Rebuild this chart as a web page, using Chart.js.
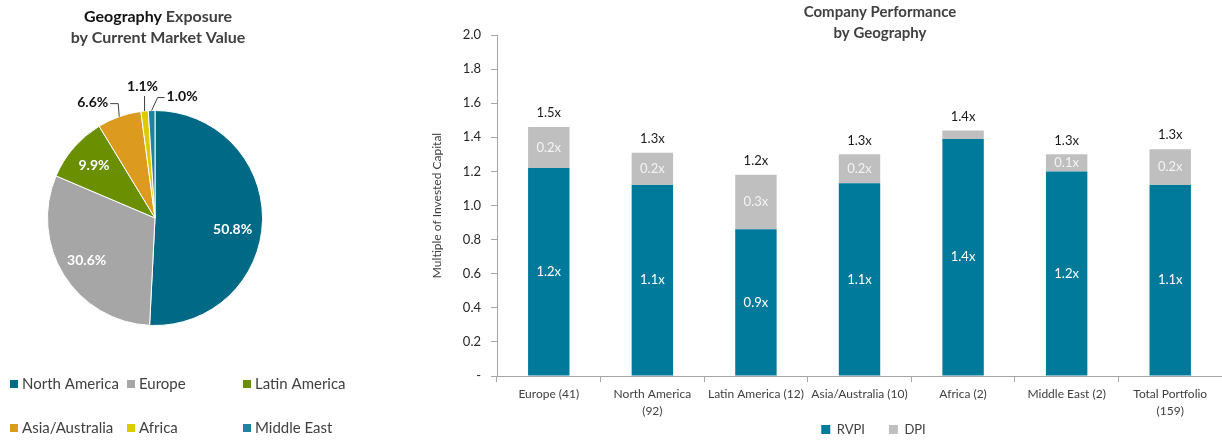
<!DOCTYPE html>
<html>
<head>
<meta charset="utf-8">
<title>Portfolio by Geography</title>
<script src="https://cdn.jsdelivr.net/npm/chart.js@4.4.1/dist/chart.umd.min.js"></script>
<style>
  html, body { margin: 0; padding: 0; background: #fff; overflow: hidden; }
  #page { position: relative; width: 1222px; height: 440px; }
  #pieWrap { position: absolute; left: 0; top: 0; width: 370px; height: 440px; }
  #barWrap { position: absolute; left: 420px; top: 0; width: 802px; height: 440px; }
</style>
</head>
<body>
<div id="page">
  <div id="pieWrap"><canvas id="geoPie"></canvas></div>
  <div id="barWrap"><canvas id="perfBar"></canvas></div>
</div>
<script>
// exposure by current market value, %
const regions = ['North America', 'Europe', 'Latin America', 'Asia/Australia', 'Africa', 'Middle East'];
const exposure = [50.8, 30.6, 9.9, 6.6, 1.1, 1.0];
const regionColors = ['#006A86', '#A6A6A6', '#6A8F00', '#DC9A1E', '#DDCA00', '#2281A2'];

// company performance, multiple of invested capital (company count in brackets)
const perfLabels = [
  ['Europe (41)'],
  ['North America', '(92)'],
  ['Latin America (12)'],
  ['Asia/Australia (10)'],
  ['Africa (2)'],
  ['Middle East (2)'],
  ['Total Portfolio', '(159)']
];
const rvpi = [1.22, 1.12, 0.86, 1.13, 1.39, 1.20, 1.12];
const dpi = [0.24, 0.19, 0.32, 0.17, 0.05, 0.10, 0.21];
const yMax = 2.0;
const yStep = 0.2;

const FONT = 'Lato';
Chart.defaults.font.family = FONT;

// ---------- pie ----------

// small slices get a leader line: elbow, end of line and text anchor, relative to the rim
const callouts = {
  3: { elbow: [-1, -13], end: [-9, -13], text: [-11, -14], align: 'right' },
  4: { elbow: [0, -15], end: [0, -15], text: [-2, -25], align: 'center' },
  5: { elbow: [6, -13], end: [13, -13], text: [15, -14], align: 'left' }
};
const insideNudge = { 0: [-3, 9] };

const pieTitle = {
  id: 'pieTitle',
  afterDraw(chart) {
    const { ctx } = chart;
    const cx = 158;
    ctx.save();
    ctx.font = 'bold 16px ' + FONT;
    ctx.textBaseline = 'middle';
    const a = 'Geography ', b = 'Exposure';
    const wa = ctx.measureText(a).width, wb = ctx.measureText(b).width;
    const x = cx - (wa + wb) / 2;
    ctx.textAlign = 'left';
    ctx.fillStyle = '#111111';
    ctx.fillText(a, x, 17);
    ctx.fillStyle = '#404040';
    ctx.fillText(b, x + wa, 17);
    ctx.textAlign = 'center';
    ctx.fillText('by Current Market Value', cx, 38);
    ctx.restore();
  }
};

const pieLabels = {
  id: 'pieLabels',
  afterDatasetsDraw(chart) {
    const { ctx } = chart;
    const meta = chart.getDatasetMeta(0);
    const values = chart.data.datasets[0].data;
    ctx.save();
    ctx.font = 'bold 14px ' + FONT;
    ctx.textBaseline = 'middle';
    meta.data.forEach((arc, i) => {
      const text = values[i].toFixed(1) + '%';
      const mid = (arc.startAngle + arc.endAngle) / 2;
      const c = callouts[i];
      if (!c) {
        const r = arc.outerRadius * 0.75;
        const n = insideNudge[i] || [0, 0];
        ctx.fillStyle = '#ffffff';
        ctx.textAlign = 'center';
        ctx.fillText(text, arc.x + Math.cos(mid) * r + n[0], arc.y + Math.sin(mid) * r + n[1]);
        return;
      }
      const ex = arc.x + Math.cos(mid) * arc.outerRadius;
      const ey = arc.y + Math.sin(mid) * arc.outerRadius;
      ctx.strokeStyle = '#404040';
      ctx.lineWidth = 1;
      ctx.beginPath();
      ctx.moveTo(ex, ey);
      ctx.lineTo(ex + c.elbow[0], ey + c.elbow[1]);
      ctx.lineTo(ex + c.end[0], ey + c.end[1]);
      ctx.stroke();
      ctx.fillStyle = '#111111';
      ctx.textAlign = c.align;
      ctx.fillText(text, ex + c.text[0], ey + c.text[1]);
    });
    ctx.restore();
  }
};

// three-column legend under the pie
const pieLegend = {
  id: 'pieLegend',
  afterDraw(chart) {
    const { ctx } = chart;
    const colX = [10, 127, 243];
    const rowY = [384, 428];
    const colors = chart.data.datasets[0].backgroundColor;
    ctx.save();
    ctx.font = '15px ' + FONT;
    ctx.textBaseline = 'middle';
    ctx.textAlign = 'left';
    chart.data.labels.forEach((name, i) => {
      const x = colX[i % 3], y = rowY[Math.floor(i / 3)];
      ctx.fillStyle = colors[i];
      ctx.fillRect(x, y - 4, 8, 8);
      ctx.fillStyle = '#404040';
      ctx.fillText(name, x + 12, y);
    });
    ctx.restore();
  }
};

new Chart(document.getElementById('geoPie'), {
  type: 'pie',
  data: {
    labels: regions,
    datasets: [{
      data: exposure,
      backgroundColor: regionColors,
      borderColor: '#ffffff',
      borderWidth: 1
    }]
  },
  options: {
    responsive: true,
    maintainAspectRatio: false,
    animation: false,
    layout: { padding: { left: 47, right: 107, top: 110, bottom: 114 } },
    plugins: {
      legend: { display: false },
      tooltip: { enabled: false }
    }
  },
  plugins: [pieTitle, pieLabels, pieLegend]
});

// ---------- stacked bars ----------

const barTitle = {
  id: 'barTitle',
  afterDraw(chart) {
    const { ctx } = chart;
    const cx = 880 - 420;
    ctx.save();
    ctx.font = 'bold 15px ' + FONT;
    ctx.fillStyle = '#404040';
    ctx.textAlign = 'center';
    ctx.textBaseline = 'middle';
    ctx.fillText('Company Performance', cx, 12);
    ctx.fillText('by Geography', cx, 33);
    ctx.restore();
  }
};

const fmtX = v => v.toFixed(1) + 'x';

const barLabels = {
  id: 'barLabels',
  afterDatasetsDraw(chart) {
    const { ctx } = chart;
    const low = chart.getDatasetMeta(0).data;
    const high = chart.getDatasetMeta(1).data;
    ctx.save();
    ctx.font = '13px ' + FONT;
    ctx.textAlign = 'center';
    ctx.textBaseline = 'middle';
    low.forEach((bar, i) => {
      ctx.fillStyle = '#ffffff';
      ctx.fillText(fmtX(rvpi[i]), bar.x, (bar.y + bar.base) / 2);
      const top = high[i];
      if (dpi[i] >= 0.08) {
        ctx.fillStyle = '#F4F4F4';
        ctx.fillText(fmtX(dpi[i]), top.x, (top.y + top.base) / 2);
      }
      ctx.fillStyle = '#1A1A1A';
      ctx.fillText(fmtX(rvpi[i] + dpi[i]), top.x, top.y - 14);
    });
    ctx.restore();
  }
};

// legend sits a little right of the plot centre and close under the labels
const legendPlace = {
  id: 'legendPlace',
  afterLayout(chart) {
    const lg = chart.legend;
    const dx = 14;
    const dy = 399 - lg.top;
    lg.left += dx;
    lg.right += dx;
    lg.top += dy;
    lg.bottom += dy;
  }
};

new Chart(document.getElementById('perfBar'), {
  type: 'bar',
  data: {
    labels: perfLabels,
    datasets: [
      { label: 'RVPI', data: rvpi, backgroundColor: '#007A9B' },
      { label: 'DPI', data: dpi, backgroundColor: '#BFBFBF' }
    ]
  },
  options: {
    responsive: true,
    maintainAspectRatio: false,
    animation: false,
    categoryPercentage: 0.8,
    barPercentage: 0.5,
    layout: { padding: { top: 35, right: 0, left: 0, bottom: -27 } },
    scales: {
      x: {
        stacked: true,
        grid: { offset: true, drawOnChartArea: false, tickLength: 6, color: '#A6A6A6' },
        border: { color: '#A6A6A6' },
        ticks: {
          color: '#404040',
          font: { size: 12, lineHeight: 1.4 },
          padding: 4,
          maxRotation: 0,
          autoSkip: false
        },
        afterFit(scale) { scale.height = 44; }
      },
      y: {
        stacked: true,
        min: 0,
        max: yMax,
        ticks: {
          stepSize: yStep,
          color: '#262626',
          font: { size: 13 },
          padding: 10,
          callback: v => (v === 0 ? '-' : v.toFixed(1))
        },
        grid: { drawOnChartArea: false, tickLength: 6, color: '#A6A6A6' },
        border: { color: '#A6A6A6' },
        title: {
          display: true,
          text: 'Multiple of Invested Capital',
          color: '#404040',
          font: { size: 12 },
          padding: { top: 10, bottom: 0 }
        },
        afterFit(scale) { scale.width = 77; }
      }
    },
    plugins: {
      legend: {
        position: 'bottom',
        fullSize: false,
        labels: {
          boxWidth: 9,
          boxHeight: 9,
          padding: 24,
          color: '#404040',
          font: { size: 13 }
        }
      },
      tooltip: { enabled: false }
    }
  },
  plugins: [barTitle, barLabels, legendPlace]
});
</script>
</body>
</html>
